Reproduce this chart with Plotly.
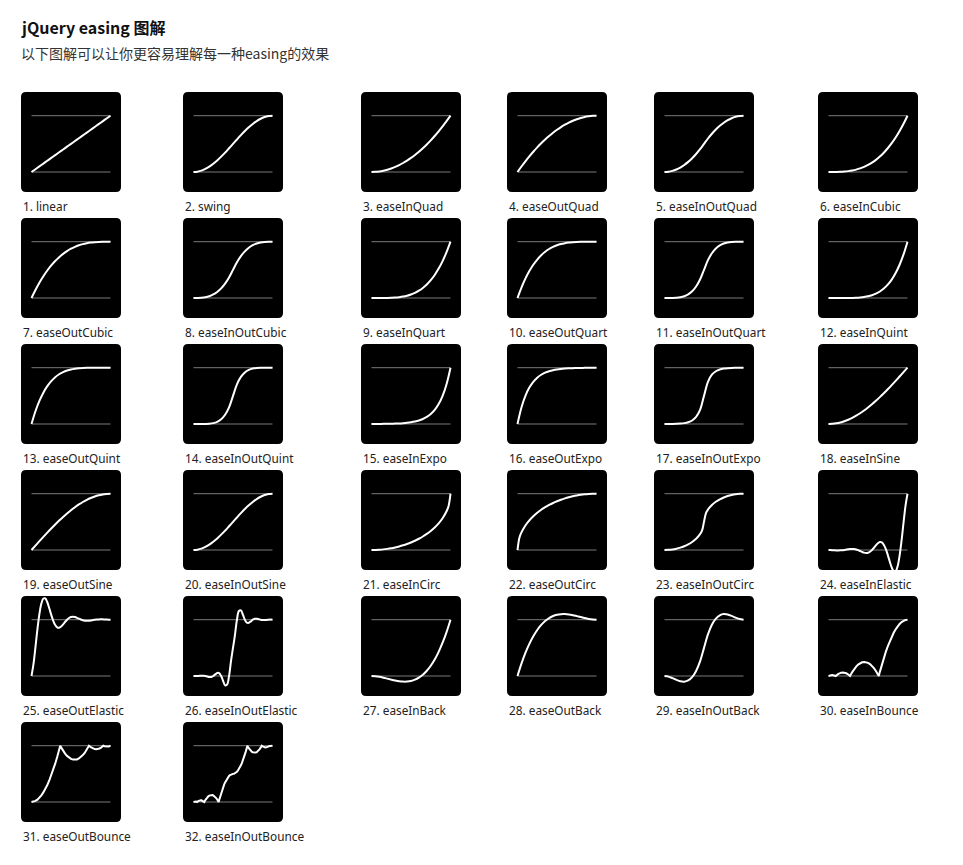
import plotly.graph_objects as go

# ---------------- data ----------------
EASING_NAMES = ["linear", "swing", "easeInQuad", "easeOutQuad", "easeInOutQuad", "easeInCubic",
                "easeOutCubic", "easeInOutCubic", "easeInQuart", "easeOutQuart", "easeInOutQuart", "easeInQuint",
                "easeOutQuint", "easeInOutQuint", "easeInExpo", "easeOutExpo", "easeInOutExpo", "easeInSine",
                "easeOutSine", "easeInOutSine", "easeInCirc", "easeOutCirc", "easeInOutCirc", "easeInElastic",
                "easeOutElastic", "easeInOutElastic", "easeInBack", "easeOutBack", "easeInOutBack", "easeInBounce",
                "easeOutBounce", "easeInOutBounce"]

T21 = [0, 0.05, 0.1, 0.15, 0.2, 0.25, 0.3, 0.35, 0.4, 0.45, 0.5, 0.55, 0.6, 0.65, 0.7, 0.75, 0.8, 0.85, 0.9, 0.95, 1]
T41 = [0, 0.025, 0.05, 0.075, 0.1, 0.125, 0.15, 0.175, 0.2, 0.225, 0.25, 0.275, 0.3, 0.325, 0.35, 0.375, 0.4,
       0.425, 0.45, 0.475, 0.5, 0.525, 0.55, 0.575, 0.6, 0.625, 0.65, 0.675, 0.7, 0.725, 0.75, 0.775, 0.8, 0.825,
       0.85, 0.875, 0.9, 0.925, 0.95, 0.975, 1]

Y_LINEAR = [0, 0.05, 0.1, 0.15, 0.2, 0.25, 0.3, 0.35, 0.4, 0.45, 0.5, 0.55, 0.6, 0.65, 0.7, 0.75, 0.8, 0.85, 0.9, 0.95, 1]
Y_SWING = [0, 0.006, 0.024, 0.054, 0.095, 0.146, 0.206, 0.273, 0.345, 0.422, 0.5, 0.578, 0.655, 0.727, 0.794, 0.854, 0.905, 0.946, 0.976, 0.994, 1]
Y_IN_QUAD = [0, 0.003, 0.01, 0.023, 0.04, 0.063, 0.09, 0.123, 0.16, 0.203, 0.25, 0.303, 0.36, 0.423, 0.49, 0.563, 0.64, 0.723, 0.81, 0.903, 1]
Y_OUT_QUAD = [0, 0.098, 0.19, 0.278, 0.36, 0.438, 0.51, 0.578, 0.64, 0.698, 0.75, 0.798, 0.84, 0.878, 0.91, 0.938, 0.96, 0.978, 0.99, 0.998, 1]
Y_INOUT_QUAD = [0, 0.005, 0.02, 0.045, 0.08, 0.125, 0.18, 0.245, 0.32, 0.405, 0.5, 0.595, 0.68, 0.755, 0.82, 0.875, 0.92, 0.955, 0.98, 0.995, 1]
Y_IN_CUBIC = [0, 0.0001, 0.001, 0.0034, 0.008, 0.0156, 0.027, 0.0429, 0.064, 0.0911, 0.125, 0.1664, 0.216, 0.2746, 0.343, 0.4219, 0.512, 0.6141, 0.729, 0.8574, 1]
Y_OUT_CUBIC = [0, 0.1426, 0.271, 0.3859, 0.488, 0.5781, 0.657, 0.7254, 0.784, 0.8336, 0.875, 0.9089, 0.936, 0.9571, 0.973, 0.9844, 0.992, 0.9966, 0.999, 0.9999, 1]
Y_INOUT_CUBIC = [0, 0.0005, 0.004, 0.0135, 0.032, 0.0625, 0.108, 0.1715, 0.256, 0.3645, 0.5, 0.6355, 0.744, 0.8285, 0.892, 0.9375, 0.968, 0.9865, 0.996, 0.9995, 1]
Y_IN_QUART = [0, 0, 0.0001, 0.0005, 0.0016, 0.0039, 0.0081, 0.015, 0.0256, 0.041, 0.0625, 0.0915, 0.1296, 0.1785, 0.2401, 0.3164, 0.4096, 0.522, 0.6561, 0.8145, 1]
Y_OUT_QUART = [0, 0.1855, 0.3439, 0.478, 0.5904, 0.6836, 0.7599, 0.8215, 0.8704, 0.9085, 0.9375, 0.959, 0.9744, 0.985, 0.9919, 0.9961, 0.9984, 0.9995, 0.9999, 1, 1]
Y_INOUT_QUART = [0, 0.0001, 0.0008, 0.0041, 0.0128, 0.0313, 0.0648, 0.1201, 0.2048, 0.3281, 0.5, 0.6719, 0.7952, 0.8799, 0.9352, 0.9688, 0.9872, 0.9959, 0.9992, 0.9999, 1]
Y_IN_QUINT = [0, 0, 0, 0.0001, 0.0003, 0.001, 0.0024, 0.0053, 0.0102, 0.0185, 0.0313, 0.0503, 0.0778, 0.116, 0.1681, 0.2373, 0.3277, 0.4437, 0.5905, 0.7738, 1]
Y_OUT_QUINT = [0, 0.2262, 0.4095, 0.5563, 0.6723, 0.7627, 0.8319, 0.884, 0.9222, 0.9497, 0.9688, 0.9815, 0.9898, 0.9947, 0.9976, 0.999, 0.9997, 0.9999, 1, 1, 1]
Y_INOUT_QUINT = [0, 0, 0.0002, 0.0012, 0.0051, 0.0156, 0.0389, 0.084, 0.1638, 0.2952, 0.5, 0.7048, 0.8362, 0.916, 0.9611, 0.9844, 0.9949, 0.9988, 0.9998, 1, 1]
Y_IN_EXPO = [0, 0.0014, 0.002, 0.0028, 0.0039, 0.0055, 0.0078, 0.011, 0.0156, 0.0221, 0.0313, 0.0442, 0.0625, 0.0884, 0.125, 0.1768, 0.25, 0.3536, 0.5, 0.7071, 1]
Y_OUT_EXPO = [0, 0.2929, 0.5, 0.6464, 0.75, 0.8232, 0.875, 0.9116, 0.9375, 0.9558, 0.9688, 0.9779, 0.9844, 0.989, 0.9922, 0.9945, 0.9961, 0.9972, 0.998, 0.9986, 1]
Y_INOUT_EXPO = [0, 0.001, 0.002, 0.0039, 0.0078, 0.0156, 0.0313, 0.0625, 0.125, 0.25, 0.5, 0.75, 0.875, 0.9375, 0.9688, 0.9844, 0.9922, 0.9961, 0.998, 0.999, 1]
Y_IN_SINE = [0, 0.0031, 0.0123, 0.0276, 0.0489, 0.0761, 0.109, 0.1474, 0.191, 0.2396, 0.2929, 0.3506, 0.4122, 0.4775, 0.546, 0.6173, 0.691, 0.7666, 0.8436, 0.9215, 1]
Y_OUT_SINE = [0, 0.0785, 0.1564, 0.2334, 0.309, 0.3827, 0.454, 0.5225, 0.5878, 0.6494, 0.7071, 0.7604, 0.809, 0.8526, 0.891, 0.9239, 0.9511, 0.9724, 0.9877, 0.9969, 1]
Y_INOUT_SINE = [0, 0.006, 0.024, 0.054, 0.095, 0.146, 0.206, 0.273, 0.345, 0.422, 0.5, 0.578, 0.655, 0.727, 0.794, 0.854, 0.905, 0.946, 0.976, 0.994, 1]

X_IN_CIRC = [0, 0.05, 0.1, 0.15, 0.2, 0.25, 0.3, 0.35, 0.4, 0.45, 0.5, 0.55, 0.6, 0.65, 0.7, 0.75, 0.8, 0.85, 0.9, 0.95, 0.975, 1]
Y_IN_CIRC = [0, 0.0013, 0.005, 0.0113, 0.0202, 0.0318, 0.0461, 0.0633, 0.0835, 0.107, 0.134, 0.1648, 0.2, 0.2401, 0.2859, 0.3386, 0.4, 0.4732, 0.5641, 0.6878, 0.7778, 1]
X_OUT_CIRC = [0, 0.025, 0.05, 0.1, 0.15, 0.2, 0.25, 0.3, 0.35, 0.4, 0.45, 0.5, 0.55, 0.6, 0.65, 0.7, 0.75, 0.8, 0.85, 0.9, 0.95, 1]
Y_OUT_CIRC = [0, 0.2222, 0.3122, 0.4359, 0.5268, 0.6, 0.6614, 0.7141, 0.7599, 0.8, 0.8352, 0.866, 0.893, 0.9165, 0.9367, 0.9539, 0.9682, 0.9798, 0.9887, 0.995, 0.9987, 1]
X_INOUT_CIRC = [0, 0.05, 0.1, 0.15, 0.2, 0.25, 0.3, 0.35, 0.4, 0.45, 0.475, 0.5, 0.525, 0.55, 0.6, 0.65, 0.7, 0.75, 0.8, 0.85, 0.9, 0.95, 1]
Y_INOUT_CIRC = [0, 0.0025, 0.0101, 0.0231, 0.0417, 0.067, 0.1, 0.1429, 0.2, 0.282, 0.3439, 0.5, 0.6561, 0.718, 0.8, 0.8571, 0.9, 0.933, 0.9583, 0.977, 0.9899, 0.9975, 1]

Y_IN_ELASTIC = [0, -0.0012, -0.0033, -0.0053, -0.0068, -0.0071, -0.0058, -0.0027, 0.002, 0.0078, 0.0135, 0.0178,
                0.0194, 0.0168, 0.0093, -0.0027, -0.018, -0.0338, -0.0467, -0.0525, -0.0479, -0.0303, 0, 0.04,
                0.0833, 0.1207, 0.1414, 0.1351, 0.0948, 0.019, -0.0855, -0.2031, -0.31, -0.3775, -0.377, -0.2868,
                -0.0997, 0.1708, 0.4872, 0.789, 1]
Y_OUT_ELASTIC = [0, 0.211, 0.5128, 0.8292, 1.0997, 1.2868, 1.377, 1.3775, 1.31, 1.2031, 1.0855, 0.981, 0.9052,
                 0.8649, 0.8586, 0.8793, 0.9167, 0.96, 1, 1.0303, 1.0479, 1.0525, 1.0467, 1.0338, 1.018, 1.0027,
                 0.9907, 0.9832, 0.9806, 0.9822, 0.9865, 0.9922, 0.998, 1.0027, 1.0058, 1.0071, 1.0068, 1.0053,
                 1.0033, 1.0012, 1]
Y_INOUT_ELASTIC = [0, -0.0018, 0, 0.0032, 0.0059, 0.0055, 0, -0.0096, -0.018, -0.0168, 0, 0.0292, 0.0544, 0.0508,
                   0, -0.0884, -0.165, -0.1539, 0, 0.268, 0.5, 0.732, 1, 1.1539, 1.165, 1.0884, 1, 0.9492, 0.9456,
                   0.9708, 1, 1.0168, 1.018, 1.0096, 1, 0.9945, 0.9941, 0.9968, 1, 1.0018, 1]

Y_IN_BACK = [0, -0.0039, -0.0143, -0.0292, -0.0465, -0.0641, -0.0802, -0.0926, -0.0994, -0.0984, -0.0877, -0.0653, -0.029, 0.023, 0.0929, 0.1826, 0.2942, 0.4297, 0.5912, 0.7806, 1]
Y_OUT_BACK = [0, 0.2194, 0.4088, 0.5703, 0.7058, 0.8174, 0.9071, 0.977, 1.029, 1.0653, 1.0877, 1.0984, 1.0994, 1.0926, 1.0802, 1.0641, 1.0465, 1.0292, 1.0143, 1.0039, 1]
Y_INOUT_BACK = [0, -0.0112, -0.0375, -0.0682, -0.0926, -0.0997, -0.0788, -0.0192, 0.0899, 0.2594, 0.5, 0.7406, 0.9101, 1.0192, 1.0788, 1.0997, 1.0926, 1.0682, 1.0375, 1.0112, 1]

X_IN_BOUNCE = [0, 0.015, 0.03, 0.0455, 0.06, 0.075, 0.0909, 0.12, 0.14, 0.16, 0.1818, 0.2, 0.225, 0.25, 0.2727, 0.3,
               0.325, 0.35, 0.375, 0.4, 0.425, 0.4545, 0.475, 0.5, 0.525, 0.55, 0.575, 0.6, 0.625, 0.6364, 0.65, 0.675,
               0.7, 0.725, 0.75, 0.775, 0.8, 0.825, 0.85, 0.875, 0.9, 0.925, 0.95, 0.975, 1]
Y_IN_BOUNCE = [0, 0.0086, 0.0138, 0.0156, 0.014, 0.009, 0, 0.0336, 0.0493, 0.0589, 0.0625, 0.06, 0.0484, 0.0273, 0,
               0.0694, 0.1231, 0.1673, 0.2021, 0.2275, 0.2434, 0.25, 0.2468, 0.2344, 0.2125, 0.1811, 0.1403, 0.09,
               0.0303, 0, 0.0736, 0.2012, 0.3194, 0.4281, 0.5273, 0.6172, 0.6975, 0.7684, 0.8298, 0.8818, 0.9244,
               0.9575, 0.9811, 0.9953, 1]
X_OUT_BOUNCE = [0, 0.025, 0.05, 0.075, 0.1, 0.125, 0.15, 0.175, 0.2, 0.225, 0.25, 0.275, 0.3, 0.325, 0.35, 0.3636,
                0.375, 0.4, 0.425, 0.45, 0.475, 0.5, 0.525, 0.5455, 0.575, 0.6, 0.625, 0.65, 0.675, 0.7, 0.7273,
                0.75, 0.775, 0.8, 0.8182, 0.84, 0.86, 0.88, 0.9091, 0.925, 0.94, 0.9545, 0.97, 0.985, 1]
Y_OUT_BOUNCE = [0, 0.0047, 0.0189, 0.0425, 0.0756, 0.1182, 0.1702, 0.2316, 0.3025, 0.3828, 0.4727, 0.5719, 0.6806,
                0.7988, 0.9264, 1.0, 0.9697, 0.91, 0.8597, 0.8189, 0.7875, 0.7656, 0.7532, 0.75, 0.7566, 0.7725,
                0.7979, 0.8327, 0.8769, 0.9306, 1.0, 0.9727, 0.9516, 0.94, 0.9375, 0.9411, 0.9507, 0.9664, 1.0,
                0.991, 0.986, 0.9844, 0.9862, 0.9914, 1.0]
X_INOUT_BOUNCE = [0, 0.0075, 0.015, 0.0228, 0.03, 0.0375, 0.0455, 0.06, 0.07, 0.08, 0.0909, 0.1, 0.1125, 0.125,
                  0.1364, 0.15, 0.1625, 0.175, 0.1875, 0.2, 0.2125, 0.2273, 0.2375, 0.25, 0.2625, 0.275, 0.2875, 0.3,
                  0.3125, 0.3182, 0.325, 0.3375, 0.35, 0.3625, 0.375, 0.3875, 0.4, 0.4125, 0.425, 0.4375, 0.45,
                  0.4625, 0.475, 0.4875, 0.5,
                  0.5125, 0.525, 0.5375, 0.55, 0.5625, 0.575, 0.5875, 0.6, 0.6125, 0.625, 0.6375, 0.65, 0.6625,
                  0.675, 0.6818, 0.6875, 0.7, 0.7125, 0.725, 0.7375, 0.75, 0.7625, 0.7727, 0.7875, 0.8, 0.8125,
                  0.825, 0.8375, 0.85, 0.8636, 0.875, 0.8875, 0.9, 0.9091, 0.92, 0.93, 0.94, 0.9545, 0.9625, 0.97,
                  0.9773, 0.985, 0.9925, 1]
Y_INOUT_BOUNCE = [0, 0.0043, 0.0069, 0.0078, 0.007, 0.0045, 0, 0.0168, 0.0247, 0.0295, 0.0313, 0.03, 0.0242, 0.0137,
                  0, 0.0347, 0.0616, 0.0837, 0.1011, 0.1138, 0.1217, 0.125, 0.1234, 0.1172, 0.1063, 0.0906, 0.0702,
                  0.045, 0.0152, 0, 0.0368, 0.1006, 0.1597, 0.2141, 0.2637, 0.3086, 0.3488, 0.3842, 0.4149, 0.4409,
                  0.4622, 0.4788, 0.4906, 0.4977, 0.5,
                  0.5024, 0.5095, 0.5213, 0.5378, 0.5591, 0.5851, 0.6158, 0.6513, 0.6914, 0.7364, 0.786, 0.8403,
                  0.8994, 0.9632, 1.0, 0.9849, 0.955, 0.9299, 0.9095, 0.8938, 0.8828, 0.8766, 0.875, 0.8783, 0.8863,
                  0.899, 0.9164, 0.9385, 0.9653, 1.0, 0.9864, 0.9758, 0.97, 0.9688, 0.9706, 0.9754, 0.9832, 1.0,
                  0.9955, 0.993, 0.9922, 0.9931, 0.9957, 1.0]

SERIES = [
    (T21, Y_LINEAR, "spline"), (T21, Y_SWING, "spline"), (T21, Y_IN_QUAD, "spline"), (T21, Y_OUT_QUAD, "spline"),
    (T21, Y_INOUT_QUAD, "spline"), (T21, Y_IN_CUBIC, "spline"), (T21, Y_OUT_CUBIC, "spline"),
    (T21, Y_INOUT_CUBIC, "spline"), (T21, Y_IN_QUART, "spline"), (T21, Y_OUT_QUART, "spline"),
    (T21, Y_INOUT_QUART, "spline"), (T21, Y_IN_QUINT, "spline"), (T21, Y_OUT_QUINT, "spline"),
    (T21, Y_INOUT_QUINT, "spline"), (T21, Y_IN_EXPO, "spline"), (T21, Y_OUT_EXPO, "spline"),
    (T21, Y_INOUT_EXPO, "spline"), (T21, Y_IN_SINE, "spline"), (T21, Y_OUT_SINE, "spline"),
    (T21, Y_INOUT_SINE, "spline"), (X_IN_CIRC, Y_IN_CIRC, "spline"), (X_OUT_CIRC, Y_OUT_CIRC, "spline"),
    (X_INOUT_CIRC, Y_INOUT_CIRC, "spline"), (T41, Y_IN_ELASTIC, "spline"), (T41, Y_OUT_ELASTIC, "spline"),
    (T41, Y_INOUT_ELASTIC, "spline"), (T21, Y_IN_BACK, "spline"), (T21, Y_OUT_BACK, "spline"),
    (T21, Y_INOUT_BACK, "spline"), (X_IN_BOUNCE, Y_IN_BOUNCE, "linear"), (X_OUT_BOUNCE, Y_OUT_BOUNCE, "linear"),
    (X_INOUT_BOUNCE, Y_INOUT_BOUNCE, "linear"),
]

TITLE = "jQuery easing 图解"
SUBTITLE = "以下图解可以让你更容易理解每一种easing的效果"

# ---------------- layout ----------------
W, H = 963, 865
COL_LEFT = [21, 183, 361, 507, 654, 818]
ROW_TOP = [92, 218, 344, 470, 596, 722]
TILE = 100
XR = [-0.1329, 1.1329]
YR = [-0.355, 1.421]

fig = go.Figure()
layout = dict(width=W, height=H, autosize=False, margin=dict(l=0, r=0, t=0, b=0),
              paper_bgcolor="white", plot_bgcolor="rgba(0,0,0,0)", showlegend=False,
              template="none")
shapes = []
annotations = []


def rounded_path(x0, x1, y0, y1, rx, ry):
    return (f"M {x0+rx},{y0} L {x1-rx},{y0} Q {x1},{y0} {x1},{y0+ry} L {x1},{y1-ry} "
            f"Q {x1},{y1} {x1-rx},{y1} L {x0+rx},{y1} Q {x0},{y1} {x0},{y1-ry} "
            f"L {x0},{y0+ry} Q {x0},{y0} {x0+rx},{y0} Z")


for i, (xs, ys, shape) in enumerate(SERIES):
    n = i + 1
    r, c = divmod(i, 6)
    L = COL_LEFT[c]
    T = ROW_TOP[r]
    x0, x1 = L / W, (L + TILE) / W
    y1, y0 = 1 - T / H, 1 - (T + TILE) / H
    sfx = "" if n == 1 else str(n)
    layout[f"xaxis{sfx}"] = dict(domain=[x0, x1], range=XR, visible=False, fixedrange=True, anchor=f"y{sfx}")
    layout[f"yaxis{sfx}"] = dict(domain=[y0, y1], range=YR, visible=False, fixedrange=True, anchor=f"x{sfx}")
    shapes.append(dict(type="path", xref="paper", yref="paper", layer="below",
                       path=rounded_path(x0, x1, y0, y1, 5 / W, 5 / H),
                       fillcolor="black", line=dict(width=0)))
    for lvl in (0, 1):
        shapes.append(dict(type="line", xref=f"x{sfx}", yref=f"y{sfx}", layer="below",
                           x0=0, x1=1, y0=lvl, y1=lvl, line=dict(color="#7a7a7a", width=1)))
    fig.add_trace(go.Scatter(x=xs, y=ys, mode="lines", xaxis=f"x{sfx}", yaxis=f"y{sfx}",
                             line=dict(color="white", width=2, shape=shape), hoverinfo="skip"))
    annotations.append(dict(text=f"{n}. {EASING_NAMES[i]}", xref="paper", yref="paper",
                            x=L / W, y=1 - (T + 114) / H, xanchor="left", yanchor="middle",
                            showarrow=False, font=dict(family="Noto Sans, Noto Sans CJK SC", size=11.8, color="#222")))

annotations.append(dict(text=f"<b>{TITLE}</b>", xref="paper", yref="paper", x=19 / W, y=1 - 27 / H,
                        xanchor="left", yanchor="middle", showarrow=False,
                        font=dict(family="Noto Sans CJK SC", size=16, color="#111")))
annotations.append(dict(text=SUBTITLE, xref="paper", yref="paper", x=19 / W, y=1 - 53 / H,
                        xanchor="left", yanchor="middle", showarrow=False,
                        font=dict(family="Noto Sans CJK SC", size=14, color="#333")))

layout["shapes"] = shapes
layout["annotations"] = annotations
fig.update_layout(**layout)
fig.write_html("out.html")
